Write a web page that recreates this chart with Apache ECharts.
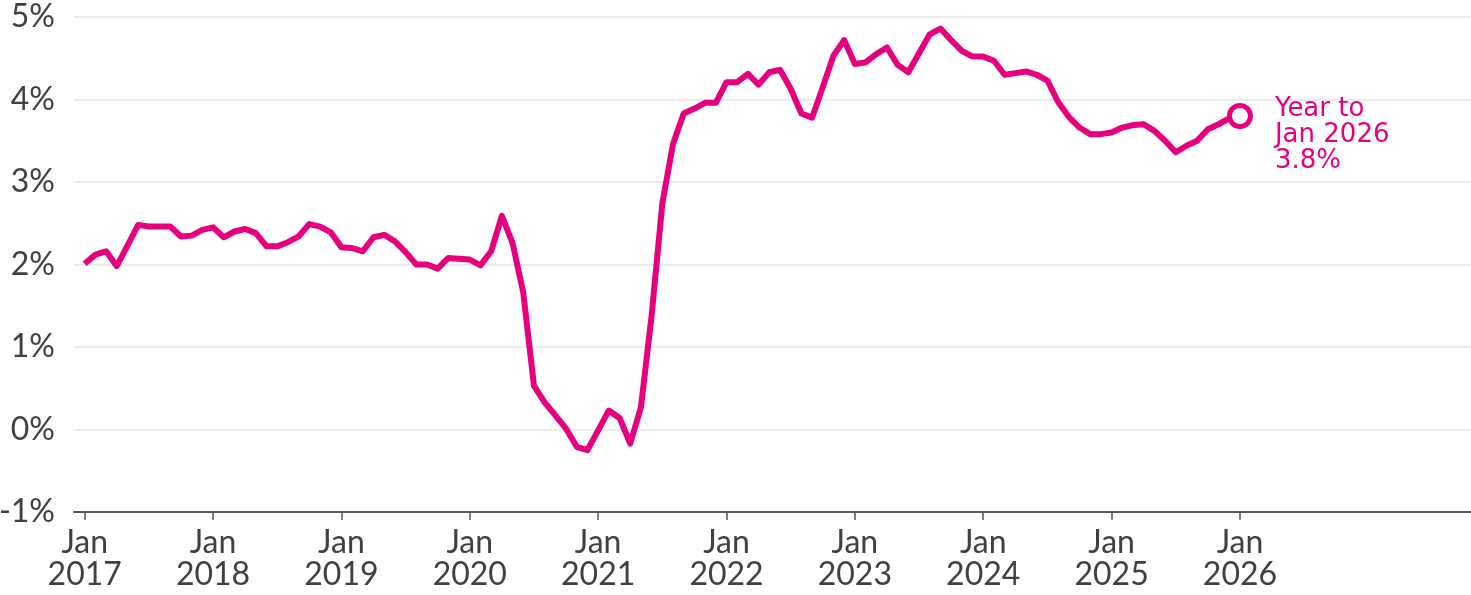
<!DOCTYPE html>
<html>
<head>
<meta charset="utf-8">
<script src="https://cdn.jsdelivr.net/npm/echarts@6/dist/echarts.min.js"></script>
<style>
html,body{margin:0;padding:0;background:#fff;}
#chart{width:1471px;height:595px;}
</style>
</head>
<body>
<div id="chart"></div>
<script>
// Monthly series, Jan 2017 .. Jan 2026 (annual % change)
const startYear = 2017;
const values = [
  2.01, 2.12, 2.16, 1.98, 2.23, 2.48, 2.46, 2.46, 2.46, 2.34, 2.35, 2.42,
  2.45, 2.33, 2.40, 2.43, 2.38, 2.22, 2.22, 2.27, 2.34, 2.49, 2.46, 2.39,
  2.21, 2.20, 2.16, 2.33, 2.36, 2.28, 2.15, 2.00, 2.00, 1.95, 2.08, 2.07,
  2.06, 1.99, 2.16, 2.59, 2.26, 1.66, 0.53, 0.33, 0.17, 0.01, -0.21, -0.25,
  -0.01, 0.23, 0.14, -0.17, 0.27, 1.38, 2.74, 3.46, 3.83, 3.89, 3.96, 3.96,
  4.21, 4.21, 4.31, 4.18, 4.33, 4.36, 4.13, 3.83, 3.78, 4.15, 4.53, 4.72,
  4.43, 4.45, 4.55, 4.63, 4.42, 4.33, 4.56, 4.79, 4.86, 4.72, 4.59, 4.52,
  4.52, 4.47, 4.30, 4.32, 4.34, 4.30, 4.23, 3.97, 3.79, 3.66, 3.58, 3.58,
  3.60, 3.66, 3.69, 3.70, 3.62, 3.50, 3.36, 3.44, 3.50, 3.64, 3.70, 3.77,
  3.80
];
const tickYears = [2017, 2018, 2019, 2020, 2021, 2022, 2023, 2024, 2025, 2026];
const yTicks = [-1, 0, 1, 2, 3, 4, 5];
const endLabel = ['Year to', 'Jan 2026', '3.8%'];

const PINK = '#e6007e';
const TEXT = '#404040';
const FONT = 'Lato, "DejaVu Sans", sans-serif';
const LABEL_FONT = '"DejaVu Sans", sans-serif';

const tickPos = tickYears.map(y => (y - startYear) * 12);
const lastIdx = values.length - 1;
const seriesData = values.map((v, i) => {
  if (i === lastIdx) {
    return {
      value: [i, v],
      symbol: 'circle',
      symbolSize: 21,
      itemStyle: {color: '#fff', borderColor: PINK, borderWidth: 5},
      label: {
        show: true,
        position: 'right',
        distance: 22,
        offset: [0, 19],
        formatter: endLabel.join('\n'),
        color: PINK,
        fontFamily: LABEL_FONT,
        fontSize: 26,
        lineHeight: 26,
        align: 'left'
      }
    };
  }
  return {value: [i, v], symbol: 'none'};
});

const chart = echarts.init(document.getElementById('chart'), null, {renderer: 'canvas'});
chart.setOption({
  animation: false,
  backgroundColor: '#fff',
  grid: {left: 74, right: 0, top: 17, bottom: 83, containLabel: false, outerBoundsMode: 'none'},
  xAxis: {
    type: 'value',
    min: -1,
    max: 129.6,
    splitLine: {show: false},
    axisLine: {show: true, onZero: false, lineStyle: {color: '#555', width: 2}},
    axisTick: {show: true, customValues: tickPos, length: 8, lineStyle: {color: '#555', width: 1.5}},
    axisLabel: {
      show: true,
      customValues: tickPos,
      formatter: v => 'Jan\n' + (startYear + Math.round(v / 12)),
      color: TEXT,
      fontFamily: FONT,
      fontSize: 32,
      lineHeight: 32,
      margin: 15
    }
  },
  yAxis: {
    type: 'value',
    min: yTicks[0],
    max: yTicks[yTicks.length - 1],
    interval: 1,
    axisLine: {show: false},
    axisTick: {show: false},
    splitLine: {show: true, lineStyle: {color: '#ebebeb', width: 2}},
    axisLabel: {
      formatter: v => v + '%',
      color: TEXT,
      fontFamily: FONT,
      fontSize: 32,
      margin: 19
    }
  },
  series: [{
    type: 'line',
    data: seriesData,
    showSymbol: true,
    lineStyle: {color: PINK, width: 6, join: 'round'},
    itemStyle: {color: PINK},
    z: 3
  }]
});
</script>
</body>
</html>
